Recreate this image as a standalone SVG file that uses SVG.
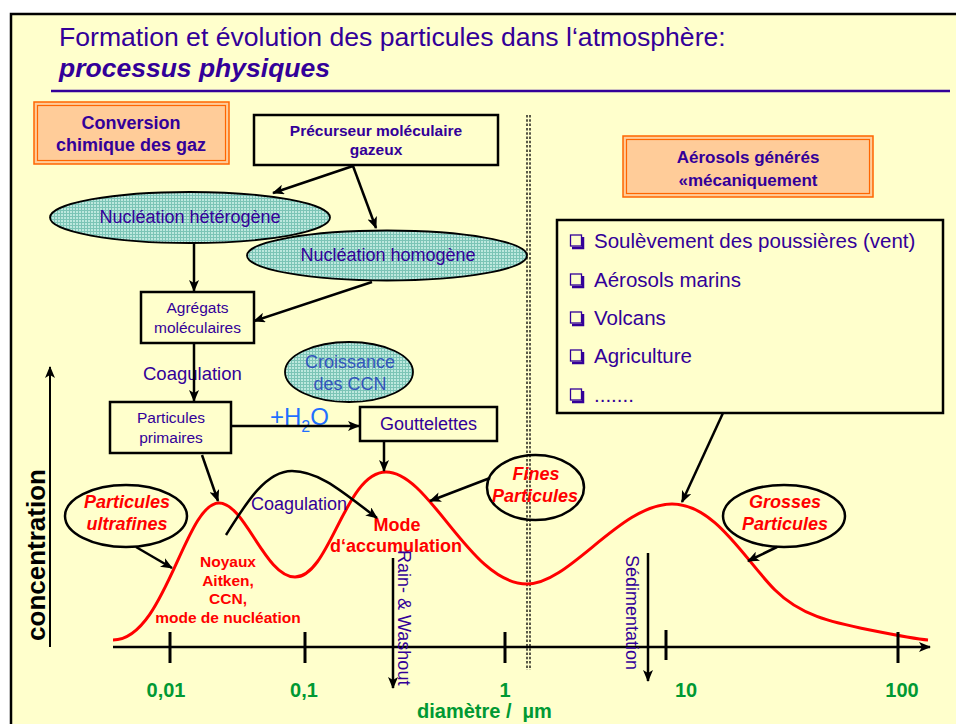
<svg xmlns="http://www.w3.org/2000/svg" width="956" height="724" viewBox="0 0 956 724">
<defs>
<style>
text{font-family:"Liberation Sans",Arial,sans-serif}
.pu{fill:#330099}
.rd{fill:#FF0000;font-weight:bold;font-style:italic;font-size:18px}
.gr{fill:#009933;font-weight:bold;font-size:20px}
.bx{fill:#FFFFCC;stroke:#000;stroke-width:2.5}
.ln{stroke:#000;stroke-width:2.5;fill:none}
.ell{stroke:#000;stroke-width:1.8;fill:url(#dots)}
.call{stroke:#000;stroke-width:2.5;fill:none}
.cb{fill:none;stroke:#330099;stroke-width:1.3}
.cbs{fill:none;stroke:#330099;stroke-width:2.5}
</style>
<pattern id="dots" width="3" height="3" patternUnits="userSpaceOnUse">
<rect width="3" height="3" fill="#BDE8DE"/>
<rect width="3" height="1" fill="#7CC4B6"/>
<rect width="1" height="3" fill="#7CC4B6"/>
</pattern>
<marker id="arr" viewBox="0 0 12 10" refX="11" refY="5" markerWidth="12" markerHeight="10" markerUnits="userSpaceOnUse" orient="auto">
<path d="M0,0 L12,5 L0,10 L3,5 z" fill="#000"/>
</marker>
</defs>
<rect x="0" y="0" width="956" height="724" fill="#FFFFFF"/>
<rect x="11" y="14" width="960" height="720" fill="#FFFFCC" stroke="#000" stroke-width="2.5"/>

<g id="title">
<text x="59" y="46" font-size="26.6" class="pu">Formation et évolution des particules dans l‘atmosphère:</text>
<text x="59" y="77" font-size="26.5" font-weight="bold" font-style="italic" class="pu">processus physiques</text>
<line x1="51" y1="91" x2="950" y2="91" stroke="#330099" stroke-width="2.5"/>
</g>

<g id="separator">
<line x1="527" y1="115" x2="527" y2="670" stroke="#000" stroke-width="1.3" stroke-dasharray="2.5 1.8"/>
<line x1="530" y1="115" x2="530" y2="670" stroke="#000" stroke-width="1.3" stroke-dasharray="2.5 1.8"/>
</g>

<g id="conversion">
<rect x="34" y="102" width="195" height="62" fill="#FFCC99" stroke="#FF6600" stroke-width="1.5"/>
<rect x="37.5" y="105.5" width="188" height="55" fill="none" stroke="#FF6600" stroke-width="1.2"/>
<text x="131" y="129" font-size="18" font-weight="bold" text-anchor="middle" class="pu">Conversion</text>
<text x="131" y="151" font-size="18" font-weight="bold" text-anchor="middle" class="pu">chimique des gaz</text>
</g>

<g id="aerosols-mec">
<rect x="623" y="136" width="250" height="61" fill="#FFCC99" stroke="#FF6600" stroke-width="1.5"/>
<rect x="626.5" y="139.5" width="243" height="54" fill="none" stroke="#FF6600" stroke-width="1.2"/>
<text x="748" y="163" font-size="17" font-weight="bold" text-anchor="middle" class="pu">Aérosols générés</text>
<text x="748" y="186" font-size="17" font-weight="bold" text-anchor="middle" class="pu">«mécaniquement</text>
</g>

<g id="precurseur">
<rect x="254" y="115" width="244" height="50" class="bx"/>
<text x="376" y="136" font-size="15.5" font-weight="bold" text-anchor="middle" class="pu">Précurseur moléculaire</text>
<text x="376" y="155" font-size="15.5" font-weight="bold" text-anchor="middle" class="pu">gazeux</text>
</g>

<g id="nuc-hetero">
<ellipse cx="190" cy="217.5" rx="140" ry="25.5" class="ell"/>
<text x="190" y="223" font-size="18" text-anchor="middle" class="pu">Nucléation hétérogène</text>
</g>

<g id="nuc-homo">
<ellipse cx="387" cy="255.5" rx="140" ry="25" class="ell"/>
<text x="388" y="261" font-size="18" text-anchor="middle" class="pu">Nucléation homogène</text>
</g>

<g id="agregats">
<rect x="141" y="292" width="113" height="51" class="bx"/>
<text x="197.5" y="313" font-size="15.5" text-anchor="middle" class="pu">Agrégats</text>
<text x="197.5" y="333" font-size="15.5" text-anchor="middle" class="pu">moléculaires</text>
</g>

<g id="croissance">
<ellipse cx="349" cy="372" rx="64" ry="30" class="ell"/>
<text x="350" y="368" font-size="18" text-anchor="middle" fill="#3355BB">Croissance</text>
<text x="350" y="390" font-size="18" text-anchor="middle" fill="#3355BB">des CCN</text>
</g>

<g id="particules-primaires">
<rect x="110" y="402" width="121" height="51" class="bx"/>
<text x="171" y="423" font-size="15.5" text-anchor="middle" class="pu">Particules</text>
<text x="171" y="443" font-size="15.5" text-anchor="middle" class="pu">primaires</text>
</g>

<g id="gouttelettes">
<rect x="360" y="407" width="137" height="34" class="bx"/>
<text x="428.5" y="430" font-size="18" text-anchor="middle" class="pu">Gouttelettes</text>
</g>

<g id="liste">
<rect x="557" y="220" width="386" height="193" class="bx"/>
<rect x="570.5" y="235" width="11" height="11" class="cb"/><path d="M583,237 V248 H572" class="cbs"/>
<text x="594" y="248" font-size="20.5" class="pu">Soulèvement des poussières (vent)</text>
<rect x="570.5" y="274" width="11" height="11" class="cb"/><path d="M583,276 V287 H572" class="cbs"/>
<text x="594" y="287" font-size="20.5" class="pu">Aérosols marins</text>
<rect x="570.5" y="312" width="11" height="11" class="cb"/><path d="M583,314 V325 H572" class="cbs"/>
<text x="594" y="325" font-size="20.5" class="pu">Volcans</text>
<rect x="570.5" y="350" width="11" height="11" class="cb"/><path d="M583,352 V363 H572" class="cbs"/>
<text x="594" y="363" font-size="20.5" class="pu">Agriculture</text>
<rect x="570.5" y="389" width="11" height="11" class="cb"/><path d="M583,391 V402 H572" class="cbs"/>
<text x="594" y="402" font-size="20.5" class="pu">.......</text>
</g>

<g id="courbe">
<path d="M113,640 C165,640 185,503 219,503 C245,503 265,577 295,577 C330,577 345,472 386,472 C430,472 470,584 527,584 C570,584 620,504 672,504 C715,504 745,560 775,590 C800,615 830,622 870,630 C900,636 915,639 928,640" fill="none" stroke="#FF0000" stroke-width="3"/>
</g>

<g id="axes">
<line x1="113" y1="647" x2="930" y2="647" class="ln" marker-end="url(#arr)"/>
<line x1="50" y1="647" x2="50" y2="367" stroke="#000" stroke-width="2" marker-end="url(#arr)"/>
<line x1="170" y1="632" x2="170" y2="663" stroke="#000" stroke-width="3"/>
<line x1="305" y1="632" x2="305" y2="663" stroke="#000" stroke-width="3"/>
<line x1="505" y1="632" x2="505" y2="663" stroke="#000" stroke-width="3"/>
<line x1="666" y1="630" x2="666" y2="660" stroke="#000" stroke-width="3"/>
<line x1="898" y1="632" x2="898" y2="663" stroke="#000" stroke-width="3"/>
<text x="166" y="697" text-anchor="middle" class="gr">0,01</text>
<text x="304" y="697" text-anchor="middle" class="gr">0,1</text>
<text x="505" y="697" text-anchor="middle" class="gr">1</text>
<text x="686" y="697" text-anchor="middle" class="gr">10</text>
<text x="902" y="697" text-anchor="middle" class="gr">100</text>
<text x="417" y="718" class="gr" xml:space="preserve">diamètre /  µm</text>
<text transform="translate(45,555) rotate(-90)" text-anchor="middle" font-size="26" font-weight="bold" fill="#000">concentration</text>
</g>

<g id="ultrafines">
<ellipse cx="126" cy="516" rx="61" ry="31" class="call"/>
<text x="127" y="508" text-anchor="middle" class="rd">Particules</text>
<text x="127" y="530" text-anchor="middle" class="rd">ultrafines</text>
</g>

<g id="fines">
<ellipse cx="535.5" cy="487.5" rx="48.5" ry="32.5" class="call"/>
<text x="536" y="480" text-anchor="middle" class="rd">Fines</text>
<text x="535" y="502" text-anchor="middle" class="rd">Particules</text>
</g>

<g id="grosses">
<ellipse cx="784" cy="516" rx="61" ry="31" class="call"/>
<text x="785" y="508" text-anchor="middle" class="rd">Grosses</text>
<text x="785" y="530" text-anchor="middle" class="rd">Particules</text>
</g>

<g id="labels">
<text x="143" y="380" font-size="18.5" class="pu">Coagulation</text>
<text x="270" y="425" font-size="24" fill="#1F6FFF">+H<tspan font-size="16" dy="7">2</tspan><tspan dy="-7">O</tspan></text>
<text x="251" y="510" font-size="18" class="pu">Coagulation</text>
<text x="397" y="531" font-size="18" font-weight="bold" text-anchor="middle" fill="#FF0000">Mode</text>
<text x="396" y="552" font-size="18" font-weight="bold" text-anchor="middle" fill="#FF0000">d‘accumulation</text>
<g font-size="15.5" font-weight="bold" text-anchor="middle" fill="#FF0000">
<text x="228" y="567">Noyaux</text>
<text x="228" y="586">Aitken,</text>
<text x="228" y="604">CCN,</text>
<text x="228" y="623">mode de nucléation</text>
</g>
<text transform="translate(398,550) rotate(90)" font-size="18" class="pu">Rain- &amp; Washout</text>
<text transform="translate(626,555) rotate(90)" font-size="18" class="pu">Sédimentation</text>
</g>

<g id="connectors">
<line x1="353" y1="166" x2="273" y2="193" class="ln" marker-end="url(#arr)"/>
<line x1="353" y1="166" x2="376" y2="228" class="ln" marker-end="url(#arr)"/>
<line x1="194" y1="243" x2="194" y2="291" class="ln" marker-end="url(#arr)"/>
<line x1="372" y1="282" x2="254" y2="321" class="ln" marker-end="url(#arr)"/>
<line x1="194" y1="343" x2="194" y2="401" class="ln" marker-end="url(#arr)"/>
<line x1="231" y1="426" x2="359" y2="426" class="ln" marker-end="url(#arr)"/>
<line x1="384" y1="441" x2="384" y2="471" class="ln" marker-end="url(#arr)"/>
<line x1="202" y1="455" x2="218" y2="501" class="ln" marker-end="url(#arr)"/>
<line x1="136" y1="547" x2="172" y2="568" class="ln" marker-end="url(#arr)"/>
<line x1="723" y1="413" x2="682" y2="502" class="ln" marker-end="url(#arr)"/>
<line x1="490" y1="478" x2="430" y2="501" class="ln" marker-end="url(#arr)"/>
<line x1="777" y1="547" x2="748" y2="561" class="ln" marker-end="url(#arr)"/>
<path d="M226,535 C245,505 265,471 292,471 C320,471 345,494 377,518" class="ln" marker-end="url(#arr)"/>
<line x1="393" y1="558" x2="393" y2="688" class="ln" marker-end="url(#arr)"/>
<line x1="648" y1="553" x2="648" y2="681" class="ln" marker-end="url(#arr)"/>
</g>
</svg>
